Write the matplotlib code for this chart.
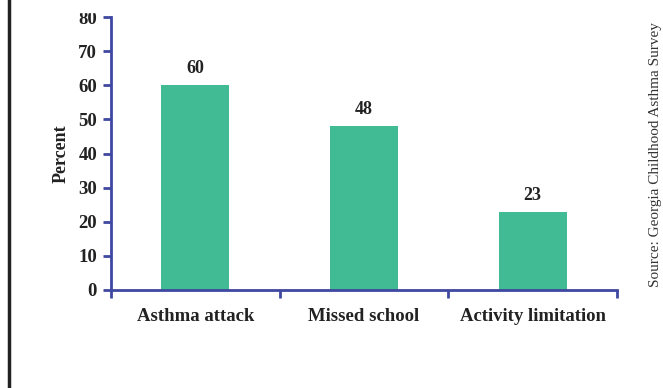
import matplotlib
matplotlib.use("Agg")
import matplotlib.pyplot as plt
from matplotlib.lines import Line2D
from matplotlib.patches import Rectangle

categories = ["Asthma attack", "Missed school", "Activity limitation"]
percent = [60, 48, 23]
yticks = [0, 10, 20, 30, 40, 50, 60, 70, 80]

bar_color = "#40BB93"
axis_color = "#3F48A0"

plt.rcParams["font.family"] = ["Liberation Serif", "DejaVu Serif"]

fig = plt.figure(figsize=(6.63, 3.88), dpi=100)
ax = fig.add_axes([111 / 663, 1 - 290 / 388, 506 / 663, 273 / 388])

x = list(range(len(categories)))
ax.bar(x, percent, width=0.405, color=bar_color, zorder=2)
for xi, v in zip(x, percent):
    ax.text(xi, v + 2.3, str(v), ha="center", va="bottom",
            fontsize=13, fontweight="bold", color="#222222")

ax.set_xlim(-0.5, len(categories) - 0.5)
ax.set_ylim(0, 80)
ax.set_yticks(yticks)
ax.set_xticks([i - 0.5 for i in range(len(categories) + 1)])
ax.set_xticklabels([])
ax.set_xticks(x, minor=True)
ax.set_xticklabels(categories, minor=True)

for side in ("top", "right"):
    ax.spines[side].set_visible(False)
for side in ("left", "bottom"):
    ax.spines[side].set_color(axis_color)
    ax.spines[side].set_linewidth(2)

ax.tick_params(axis="y", which="major", direction="out", length=6, width=2,
               color=axis_color, labelsize=13.5, pad=4, labelcolor="#222222")
ax.tick_params(axis="x", which="major", direction="out", length=6, width=2,
               color=axis_color)
ax.tick_params(axis="x", which="minor", length=0, labelsize=13.5, pad=13,
               labelcolor="#222222")
for lbl in ax.get_yticklabels() + ax.get_xticklabels(minor=True):
    lbl.set_fontweight("bold")

ax.set_ylabel("Percent", fontsize=13, fontweight="bold", color="#222222",
              labelpad=6)

fig.text(655 / 663, 1 - 155 / 388, "Source: Georgia Childhood Asthma Survey",
         rotation=90, ha="center", va="center", fontsize=11, color="#333333")

# the original image is cropped just through the top tick label
fig.add_artist(Rectangle((15 / 663, 1 - 12 / 388), 620 / 663, 12 / 388,
                         transform=fig.transFigure, color="white", zorder=10))

fig.add_artist(Line2D([9 / 663, 9 / 663], [0, 1], transform=fig.transFigure,
                      color="#222222", linewidth=2.5, zorder=11))

fig.savefig("out.png", dpi=100)
